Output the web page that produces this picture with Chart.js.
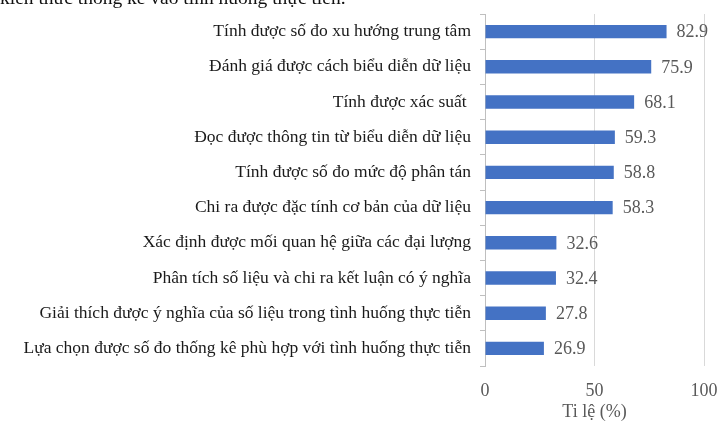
<!DOCTYPE html>
<html>
<head>
<meta charset="utf-8">
<script src="https://cdn.jsdelivr.net/npm/chart.js@4/dist/chart.umd.min.js"></script>
<style>
  html, body { margin: 0; padding: 0; background: #fff; }
  #wrap { position: relative; width: 719px; height: 426px; overflow: hidden; }
  #c { position: absolute; left: 0; top: 0; }
  #toptext { position: absolute; left: 0px; top: -12px; font-family: "Liberation Serif", serif; font-size: 19.5px; line-height: 20px; color: #111; white-space: nowrap; }
</style>
</head>
<body>
<div id="wrap">
  <canvas id="c" width="719" height="426"></canvas>
  <div id="toptext">kiến thức thống kê vào tình huống thực tiễn.</div>
</div>
<script>
const categories = [
  "Tính được số đo xu hướng trung tâm",
  "Đánh giá được cách biểu diễn dữ liệu",
  "Tính được xác suất ",
  "Đọc được thông tin từ biểu diễn dữ liệu",
  "Tính được số đo mức độ phân tán",
  "Chi ra được đặc tính cơ bản của dữ liệu",
  "Xác định được mối quan hệ giữa các đại lượng",
  "Phân tích số liệu và chi ra kết luận có ý nghĩa",
  "Giải thích được ý nghĩa của số liệu trong tình huống thực tiễn",
  "Lựa chọn được số đo thống kê phù hợp với tình huống thực tiễn"
];
const values = [82.9, 75.9, 68.1, 59.3, 58.8, 58.3, 32.6, 32.4, 27.8, 26.9];
const xTicks = [0, 50, 100];
const xTitle = "Ti lệ (%)";

const valueLabels = {
  id: 'valueLabels',
  afterDatasetsDraw(chart) {
    const ctx = chart.ctx;
    const meta = chart.getDatasetMeta(0);
    ctx.save();
    ctx.font = '18px "Liberation Serif", serif';
    ctx.fillStyle = '#595959';
    ctx.textAlign = 'left';
    ctx.textBaseline = 'middle';
    meta.data.forEach((bar, i) => {
      ctx.fillText(values[i].toFixed(1), bar.x + 10, bar.y + 1);
    });
    ctx.restore();
  }
};

new Chart(document.getElementById('c'), {
  type: 'bar',
  data: {
    labels: categories,
    datasets: [{
      data: values,
      backgroundColor: '#4472C4',
      borderWidth: 0,
      barPercentage: 0.38,
      categoryPercentage: 1.0
    }]
  },
  options: {
    indexAxis: 'y',
    responsive: false,
    animation: false,
    devicePixelRatio: 1,
    layout: { padding: { top: 14, right: 0, left: 0, bottom: 0 } },
    plugins: { legend: { display: false }, tooltip: { enabled: false } },
    scales: {
      y: {
        afterFit(scale) { scale.width = 485; scale.paddingTop = 0; scale.paddingBottom = 0; },
        grid: { display: true, drawOnChartArea: false, drawTicks: true, tickLength: 5, color: '#bfbfbf' },
        border: { display: true, color: '#bfbfbf', width: 1 },
        ticks: {
          padding: 9,
          color: '#1a1a1a',
          font: { family: '"Liberation Serif", serif', size: 17.5 }
        }
      },
      x: {
        min: 0, max: 100,
        afterFit(scale) { scale.height = 60; scale.paddingRight = 15; scale.paddingLeft = 0; },
        afterBuildTicks(scale) { scale.ticks = xTicks.map(v => ({ value: v })); },
        grid: { color: '#d9d9d9', drawTicks: false },
        border: { display: false },
        ticks: {
          padding: 14,
          color: '#595959',
          font: { family: '"Liberation Serif", serif', size: 18 }
        },
        title: {
          display: true,
          text: xTitle,
          color: '#595959',
          font: { family: '"Liberation Serif", serif', size: 18 },
          padding: { top: 0, bottom: 3 }
        }
      }
    }
  },
  plugins: [valueLabels]
});
</script>
</body>
</html>
